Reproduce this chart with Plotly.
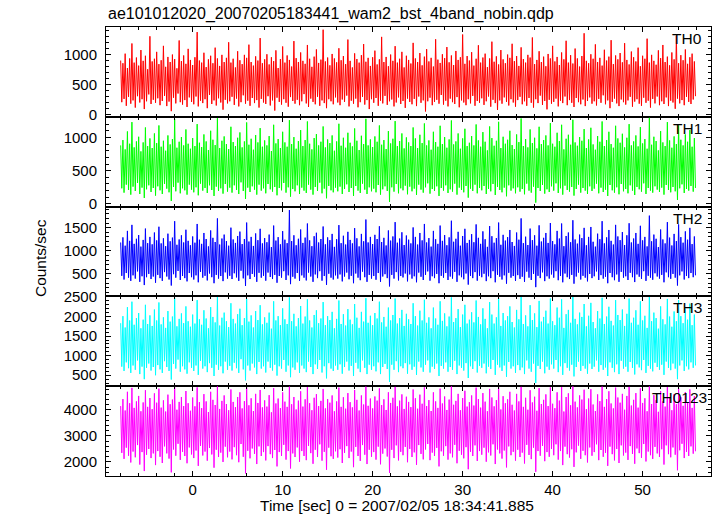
import numpy as np
import plotly.graph_objects as go
from plotly.subplots import make_subplots

title_text = "ae101012020_20070205183441_wam2_bst_4band_nobin.qdp"
x_title = "Time [sec] 0 = 2007/02/05 18:34:41.885"
y_title = "Counts/sec"
band_names = ["TH0", "TH1", "TH2", "TH3", "TH0123"]
band_colors = ["#ff0000", "#00ff00", "#0000ff", "#00ffff", "#ff00ff"]
t_start = -8.0
t_stop = 56.0

th0 = [
    905, 210, 860, 265, 1020, 150, 780, 300, 940, 185, 1190, 240, 870, 120, 955, 310, 820, 205, 1080, 260, 900, 95, 985, 225, 760, 340, 1310, 180, 890, 250, 935, 200,
    1050, 275, 845, 160, 910, 230, 1150, 315, 800, 145, 965, 220, 880, 60, 1005, 285, 930, 190, 775, 355, 1240, 210, 895, 170, 990, 245, 850, 130, 1100, 290, 915, 215,
    830, 175, 960, 305, 1380, 140, 905, 235, 870, 195, 1035, 260, 795, 110, 925, 330, 985, 180, 860, 240, 1120, 155, 940, 275, 815, 205, 1000, 85, 880, 250, 950, 190,
    1210, 225, 870, 300, 935, 165, 790, 270, 1060, 140, 910, 210, 845, 325, 1000, 185, 950, 235, 1170, 150, 880, 280, 820, 195, 975, 245, 905, 120, 1280, 265, 860, 205,
    925, 180, 1010, 310, 840, 155, 960, 240, 895, 70, 1075, 285, 780, 215, 930, 170, 1140, 260, 870, 200, 990, 135, 915, 295, 805, 230, 1230, 185, 945, 250, 880, 160,
    1040, 225, 900, 345, 850, 190, 1165, 130, 935, 270, 800, 215, 970, 175, 1090, 300, 865, 150, 920, 240, 1420, 195, 890, 110, 955, 260, 825, 225, 1015, 175, 940, 290,
    875, 205, 1110, 160, 910, 255, 980, 215, 845, 320, 1255, 140, 900, 235, 790, 185, 1025, 270, 930, 125, 870, 210, 995, 300, 1180, 170, 885, 245, 950, 95, 815, 260,
    960, 200, 1070, 280, 840, 150, 925, 235, 1300, 190, 880, 315, 965, 165, 810, 225, 1005, 255, 900, 140, 1145, 205, 870, 290, 935, 180, 1050, 230, 790, 115, 985, 270,
    915, 215, 855, 175, 1200, 265, 940, 145, 880, 305, 1030, 200, 825, 240, 970, 55, 1095, 225, 890, 285, 950, 160, 805, 215, 1260, 250, 920, 185, 865, 330, 1010, 170,
    945, 235, 1130, 140, 875, 270, 990, 210, 830, 180, 1065, 295, 915, 125, 960, 240, 1340, 205, 850, 160, 980, 260, 905, 190, 1045, 315, 820, 150, 935, 230, 1160, 200,
    870, 275, 955, 165, 1020, 225, 795, 305, 940, 135, 1220, 250, 885, 195, 975, 80, 840, 240, 1080, 185, 925, 290, 860, 215, 1005, 155, 950, 260, 1185, 205, 895, 135,
    980, 245, 815, 300, 1125, 175, 930, 225, 870, 150, 1000, 280, 955, 200, 1290, 120, 845, 260, 915, 195, 1060, 320, 880, 165, 970, 230, 810, 90, 1015, 250, 940, 185,
    1150, 215, 890, 270, 965, 140, 830, 235, 1040, 195, 925, 305, 1235, 160, 870, 245, 995, 200, 855, 130, 1105, 280, 940, 210, 805, 175, 980, 255, 1360, 145, 900, 230,
    860, 290, 1010, 185, 935, 225, 1175, 155, 880, 265, 950, 200, 820, 325, 1085, 175, 905, 240, 970, 110, 1245, 215, 845, 270, 990, 190, 925, 145, 1030, 255, 875, 210,
    1195, 170, 915, 240, 840, 300, 1055, 135, 960, 220, 890, 260, 1120, 185, 810, 150, 985, 285, 935, 200, 1270, 235, 870, 120, 1000, 265, 900, 190, 835, 305, 1075, 160,
    945, 225, 1165, 180, 880, 290, 970, 145, 825, 235, 1040, 205, 925, 100, 1315, 270, 860, 190, 995, 245, 910, 160, 1090, 300, 850, 215, 960, 180, 1020, 255, 890, 310,
]

th1 = [
    880, 235, 960, 170, 820, 290, 1090, 210, 905, 140, 1230, 260, 850, 195, 940, 315, 1010, 150, 790, 245, 925, 90, 1150, 220, 870, 280, 985, 180, 840, 240, 1060, 125,
    915, 265, 1180, 205, 860, 150, 950, 300, 800, 230, 1030, 175, 895, 45, 975, 255, 1275, 190, 845, 320, 935, 160, 1005, 235, 880, 205, 1120, 140, 905, 290, 830, 215,
    990, 175, 870, 250, 1200, 130, 920, 305, 855, 200, 1045, 240, 940, 165, 810, 280, 1100, 210, 965, 120, 885, 260, 1290, 195, 840, 235, 950, 155, 1015, 300, 900, 185,
    825, 245, 1160, 170, 930, 280, 870, 210, 995, 150, 1075, 325, 850, 195, 940, 75, 1225, 245, 890, 180, 980, 265, 815, 215, 1035, 140, 925, 290, 1140, 200, 860, 235,
    955, 160, 880, 300, 1020, 220, 795, 185, 1190, 255, 910, 130, 975, 240, 840, 205, 1085, 315, 925, 170, 860, 250, 1260, 110, 900, 225, 1005, 190, 830, 280, 945, 150,
    1110, 245, 870, 200, 960, 165, 1240, 290, 905, 215, 820, 140, 990, 255, 1050, 195, 880, 320, 935, 160, 1165, 230, 850, 85, 970, 270, 915, 205, 1030, 175, 800, 245,
    940, 190, 1205, 260, 875, 150, 995, 225, 845, 295, 1070, 180, 920, 240, 865, 120, 1135, 270, 950, 200, 810, 165, 1025, 305, 900, 215, 1280, 150, 880, 250, 970, 190,
    855, 230, 1015, 175, 935, 285, 1180, 140, 890, 220, 960, 265, 825, 195, 1095, 30, 910, 250, 980, 185, 1245, 300, 870, 160, 945, 235, 1060, 205, 835, 275, 1000, 145,
    925, 260, 870, 190, 1150, 230, 985, 135, 840, 290, 1040, 215, 915, 170, 1210, 250, 880, 310, 955, 155, 815, 225, 1085, 195, 930, 265, 860, 120, 1175, 240, 900, 200,
    1005, 280, 845, 165, 970, 220, 1255, 185, 895, 305, 940, 140, 1060, 245, 830, 210, 985, 175, 1130, 270, 870, 95, 920, 230, 1020, 195, 880, 290, 1195, 160, 955, 240,
    860, 205, 1080, 270, 935, 150, 805, 225, 1165, 190, 990, 300, 875, 135, 950, 255, 1235, 210, 840, 175, 1010, 245, 905, 115, 965, 280, 1100, 200, 885, 235, 825, 160,
    1045, 250, 930, 185, 1285, 225, 870, 145, 975, 305, 850, 200, 1120, 170, 915, 260, 995, 20, 835, 240, 1160, 195, 900, 285, 960, 155, 1030, 220, 880, 180, 1215, 265,
    905, 200, 860, 310, 1070, 165, 945, 235, 1190, 140, 820, 275, 980, 210, 1040, 185, 890, 255, 1265, 125, 925, 225, 875, 290, 1005, 170, 950, 240, 1125, 200, 840, 150,
    970, 265, 1145, 195, 895, 230, 815, 305, 1020, 160, 935, 245, 1240, 180, 870, 215, 960, 120, 1085, 285, 900, 205, 845, 170, 1175, 250, 985, 145, 920, 300, 1055, 190,
    850, 225, 995, 160, 1200, 280, 880, 200, 940, 135, 1030, 255, 865, 220, 1155, 185, 910, 310, 975, 150, 830, 240, 1295, 200, 890, 170, 1010, 265, 945, 215, 805, 180,
    1095, 245, 925, 140, 870, 285, 1230, 210, 955, 175, 845, 255, 1015, 190, 900, 60, 1180, 235, 965, 295, 880, 165, 1045, 225, 935, 200, 1110, 270, 860, 185, 990, 240,
]

th2 = [
    1180, 460, 1290, 380, 1110, 520, 1430, 420, 1215, 350, 1560, 470, 1150, 400, 1260, 555, 1340, 330, 1090, 450, 1235, 260, 1480, 430, 1165, 500, 1300, 390, 1140, 445, 1395, 310,
    1225, 480, 1520, 410, 1160, 350, 1270, 540, 1100, 445, 1370, 380, 1205, 250, 1285, 495, 1640, 420, 1130, 565, 1245, 370, 1335, 455, 1180, 410, 1455, 340, 1215, 520, 1120, 430,
    1310, 380, 1175, 470, 1580, 320, 1240, 545, 1150, 420, 1385, 460, 1255, 360, 1095, 510, 1440, 430, 1280, 300, 1190, 480, 1700, 400, 1135, 455, 1265, 345, 1350, 535, 1210, 400,
    1110, 460, 1500, 390, 1245, 515, 1170, 425, 1320, 350, 1415, 570, 1145, 405, 1255, 240, 1610, 470, 1200, 390, 1300, 500, 1105, 440, 1375, 330, 1230, 525, 1475, 420, 1160, 460,
    1275, 355, 1185, 530, 1350, 435, 1080, 390, 1545, 480, 1220, 310, 1295, 455, 1140, 420, 1425, 560, 1240, 370, 1165, 470, 1880, 280, 1210, 440, 1335, 400, 1120, 520, 1260, 350,
    1460, 470, 1170, 420, 1285, 360, 1590, 530, 1225, 445, 1100, 330, 1315, 490, 1390, 410, 1180, 560, 1255, 355, 1525, 455, 1140, 265, 1290, 505, 1230, 420, 1365, 380, 1085, 470,
    1250, 400, 1555, 490, 1165, 340, 1325, 445, 1135, 530, 1410, 385, 1235, 460, 1160, 300, 1490, 510, 1270, 420, 1095, 365, 1365, 550, 1205, 430, 1675, 330, 1180, 480, 1300, 400,
    1145, 455, 1345, 375, 1255, 520, 1530, 330, 1190, 445, 1280, 495, 1115, 410, 1440, 230, 1220, 480, 1310, 400, 1620, 540, 1175, 360, 1265, 455, 1400, 425, 1125, 510, 1330, 340,
    1240, 490, 1160, 400, 1505, 450, 1300, 320, 1135, 530, 1385, 440, 1225, 370, 1580, 480, 1180, 555, 1275, 355, 1090, 450, 1430, 410, 1250, 500, 1150, 300, 1545, 460, 1215, 420,
    1340, 520, 1120, 370, 1290, 445, 1650, 400, 1195, 545, 1260, 330, 1410, 470, 1110, 430, 1320, 385, 1475, 510, 1170, 270, 1235, 455, 1360, 410, 1185, 540, 1570, 355, 1280, 460,
    1150, 430, 1420, 505, 1250, 345, 1085, 450, 1535, 410, 1315, 560, 1175, 320, 1275, 480, 1610, 440, 1130, 380, 1345, 470, 1220, 290, 1295, 525, 1450, 420, 1190, 455, 1105, 350,
    1395, 475, 1240, 395, 1700, 440, 1165, 330, 1305, 550, 1125, 420, 1480, 370, 1230, 500, 1335, 215, 1110, 460, 1550, 410, 1200, 535, 1280, 345, 1385, 450, 1170, 400, 1600, 490,
    1210, 420, 1140, 560, 1430, 365, 1265, 455, 1590, 320, 1100, 510, 1320, 430, 1395, 390, 1185, 480, 1660, 290, 1245, 445, 1155, 530, 1350, 380, 1275, 460, 1495, 420, 1120, 340,
    1300, 500, 1515, 410, 1195, 450, 1090, 555, 1370, 370, 1250, 475, 1640, 400, 1160, 440, 1290, 300, 1450, 520, 1215, 430, 1135, 365, 1560, 490, 1310, 330, 1230, 545, 1405, 420,
    1125, 450, 1335, 370, 1595, 525, 1180, 430, 1265, 325, 1385, 490, 1150, 440, 1540, 395, 1225, 560, 1300, 350, 1095, 460, 1760, 420, 1205, 375, 1350, 515, 1260, 445, 1080, 400,
    1460, 480, 1245, 320, 1160, 535, 1620, 430, 1285, 395, 1115, 500, 1365, 420, 1210, 250, 1570, 470, 1295, 555, 1175, 380, 1420, 455, 1240, 410, 1495, 520, 1145, 430, 1310, 470,
]

th3 = [
    1830, 720, 2010, 610, 1720, 830, 2240, 680, 1900, 560, 2380, 750, 1790, 640, 1960, 880, 2090, 530, 1700, 720, 1920, 400, 2300, 690, 1810, 800, 2030, 620, 1760, 710, 2180, 500,
    1900, 760, 2360, 650, 1800, 560, 1980, 860, 1710, 710, 2140, 610, 1870, 390, 2000, 790, 2480, 670, 1750, 900, 1940, 590, 2080, 730, 1830, 650, 2260, 540, 1880, 830, 1740, 690,
    2050, 610, 1820, 750, 2420, 510, 1930, 870, 1790, 670, 2160, 730, 1950, 580, 1700, 810, 2240, 690, 1990, 480, 1850, 770, 2500, 640, 1770, 730, 1970, 550, 2100, 850, 1880, 640,
    1730, 740, 2340, 620, 1940, 820, 1820, 680, 2060, 560, 2200, 910, 1780, 650, 1960, 370, 2450, 750, 1870, 620, 2030, 800, 1720, 700, 2140, 530, 1910, 840, 2290, 670, 1800, 730,
    1980, 570, 1840, 850, 2100, 690, 1690, 620, 2390, 770, 1900, 490, 2010, 730, 1780, 670, 2210, 890, 1930, 590, 1810, 750, 2490, 450, 1880, 700, 2070, 640, 1750, 830, 1960, 560,
    2270, 750, 1820, 670, 2000, 580, 2440, 850, 1900, 710, 1720, 530, 2040, 780, 2160, 660, 1830, 890, 1950, 570, 2370, 730, 1780, 420, 2010, 810, 1910, 670, 2120, 610, 1700, 750,
    1940, 640, 2410, 780, 1810, 540, 2060, 710, 1770, 850, 2190, 620, 1920, 740, 1800, 480, 2320, 820, 1970, 670, 1710, 580, 2120, 880, 1870, 690, 2470, 530, 1840, 770, 2020, 640,
    1780, 730, 2090, 600, 1950, 830, 2380, 530, 1850, 710, 1990, 790, 1740, 660, 2230, 330, 1900, 770, 2040, 640, 2460, 860, 1820, 580, 1960, 730, 2170, 680, 1760, 810, 2070, 540,
    1930, 780, 1810, 640, 2340, 720, 2010, 510, 1770, 850, 2150, 700, 1900, 590, 2430, 770, 1840, 880, 1980, 570, 1700, 720, 2230, 660, 1950, 800, 1790, 480, 2390, 740, 1890, 670,
    2080, 830, 1750, 590, 2000, 710, 2490, 640, 1860, 870, 1960, 530, 2190, 750, 1730, 690, 2050, 620, 2300, 810, 1820, 430, 1920, 730, 2110, 660, 1850, 860, 2410, 570, 1990, 740,
    1800, 690, 2210, 800, 1940, 550, 1700, 720, 2370, 660, 2050, 890, 1820, 510, 1980, 770, 2480, 700, 1760, 610, 2090, 750, 1900, 460, 2010, 840, 2260, 670, 1860, 730, 1720, 560,
    2170, 760, 1930, 630, 2500, 700, 1810, 530, 2030, 880, 1750, 670, 2290, 590, 1910, 800, 2080, 300, 1730, 740, 2400, 660, 1870, 850, 1990, 550, 2150, 720, 1820, 640, 2460, 780,
    1880, 670, 1780, 890, 2230, 580, 1970, 730, 2440, 510, 1710, 810, 2060, 690, 2170, 620, 1840, 770, 2500, 470, 1940, 710, 1800, 850, 2100, 610, 1990, 740, 2320, 670, 1750, 540,
    2020, 800, 2350, 660, 1860, 720, 1700, 880, 2140, 590, 1950, 760, 2480, 640, 1810, 700, 2000, 480, 2250, 830, 1890, 690, 1770, 580, 2420, 780, 2040, 530, 1910, 870, 2180, 670,
    1760, 720, 2070, 590, 2460, 840, 1840, 690, 1970, 520, 2160, 780, 1790, 700, 2390, 630, 1900, 890, 2020, 560, 1710, 740, 2500, 670, 1880, 600, 2100, 820, 1960, 710, 1690, 640,
    2260, 770, 1930, 510, 1800, 850, 2450, 690, 2000, 630, 1740, 800, 2130, 670, 1880, 400, 2420, 750, 2010, 880, 1830, 610, 2200, 730, 1920, 650, 2330, 830, 1780, 690, 2050, 750,
]

th0123 = [
    4150, 2350, 4420, 2120, 3980, 2550, 4700, 2240, 4260, 1980, 4850, 2400, 4080, 2180, 4330, 2650, 4540, 1900, 3950, 2380, 4290, 1650, 4760, 2280, 4120, 2500, 4460, 2150, 4030, 2330, 4640, 1880,
    4280, 2420, 4820, 2200, 4090, 1960, 4370, 2600, 3940, 2330, 4590, 2130, 4220, 1600, 4400, 2480, 4900, 2240, 4010, 2700, 4310, 2080, 4500, 2390, 4150, 2230, 4730, 1950, 4260, 2560, 3970, 2290,
    4480, 2150, 4140, 2440, 4870, 1850, 4300, 2620, 4070, 2250, 4610, 2400, 4330, 2050, 3920, 2540, 4700, 2290, 4390, 1780, 4190, 2470, 4910, 2190, 4040, 2360, 4350, 2000, 4560, 2590, 4230, 2180,
    3990, 2400, 4790, 2100, 4310, 2570, 4110, 2260, 4500, 1990, 4680, 2690, 4060, 2200, 4340, 1560, 4880, 2430, 4180, 2140, 4450, 2520, 3960, 2310, 4620, 1920, 4270, 2600, 4770, 2230, 4100, 2380,
    4370, 2060, 4130, 2610, 4570, 2300, 3910, 2150, 4840, 2460, 4250, 1830, 4440, 2380, 4070, 2230, 4680, 2660, 4320, 2090, 4120, 2420, 4900, 1750, 4220, 2330, 4500, 2190, 4020, 2560, 4360, 2010,
    4720, 2420, 4130, 2230, 4410, 2070, 4880, 2620, 4260, 2340, 3990, 1930, 4470, 2470, 4610, 2190, 4150, 2680, 4350, 2050, 4810, 2390, 4060, 1700, 4420, 2550, 4280, 2220, 4560, 2120, 3950, 2410,
    4330, 2170, 4860, 2490, 4120, 1960, 4490, 2350, 4050, 2610, 4650, 2150, 4300, 2400, 4100, 1800, 4770, 2580, 4390, 2230, 3980, 2040, 4560, 2650, 4210, 2280, 4900, 1920, 4160, 2470, 4440, 2200,
    4060, 2380, 4520, 2090, 4360, 2590, 4830, 1910, 4190, 2320, 4410, 2520, 4000, 2210, 4680, 1580, 4270, 2470, 4470, 2150, 4890, 2640, 4140, 2060, 4360, 2390, 4600, 2260, 4040, 2580, 4510, 1990,
    4310, 2500, 4110, 2190, 4790, 2370, 4450, 1890, 4050, 2650, 4590, 2310, 4240, 2100, 4870, 2480, 4150, 2690, 4380, 2070, 3960, 2360, 4680, 2230, 4330, 2540, 4080, 1830, 4820, 2410, 4250, 2240,
    4520, 2610, 4000, 2090, 4400, 2330, 4910, 2180, 4200, 2660, 4350, 1950, 4620, 2430, 3990, 2280, 4460, 2140, 4740, 2570, 4130, 1720, 4300, 2390, 4560, 2230, 4170, 2640, 4860, 2040, 4420, 2420,
    4090, 2280, 4650, 2550, 4320, 2010, 3950, 2370, 4810, 2250, 4480, 2680, 4140, 1920, 4380, 2480, 4900, 2330, 4020, 2130, 4530, 2440, 4260, 1790, 4410, 2600, 4700, 2260, 4200, 2390, 3980, 2050,
    4620, 2470, 4330, 2190, 4890, 2360, 4120, 1940, 4470, 2660, 4010, 2270, 4760, 2110, 4290, 2550, 4510, 1620, 3970, 2420, 4840, 2240, 4230, 2620, 4390, 2030, 4600, 2380, 4150, 2200, 4870, 2500,
    4240, 2260, 4070, 2680, 4680, 2090, 4360, 2420, 4880, 1880, 3940, 2590, 4500, 2300, 4640, 2170, 4180, 2490, 4910, 1810, 4320, 2370, 4100, 2630, 4560, 2120, 4400, 2430, 4780, 2260, 4030, 1980,
    4440, 2560, 4800, 2240, 4210, 2380, 3960, 2680, 4600, 2070, 4340, 2460, 4900, 2200, 4120, 2350, 4420, 1850, 4720, 2590, 4250, 2300, 4060, 2060, 4860, 2500, 4480, 1960, 4280, 2640, 4620, 2250,
    4010, 2360, 4540, 2080, 4890, 2610, 4170, 2310, 4390, 1930, 4650, 2520, 4090, 2340, 4830, 2160, 4270, 2690, 4450, 2020, 3950, 2400, 4910, 2260, 4230, 2120, 4570, 2580, 4380, 2330, 3930, 2190,
    4730, 2490, 4330, 1900, 4130, 2640, 4880, 2300, 4470, 2180, 3990, 2560, 4610, 2280, 4220, 1680, 4850, 2450, 4490, 2700, 4160, 2150, 4690, 2390, 4300, 2230, 4790, 2600, 4080, 2320, 4530, 2410,
]

series = [th0, th1, th2, th3, th0123]

# ---- styling / layout (not data) ----
y_ranges = [[-34, 1465], [-40, 1310], [15, 1955], [220, 2515], [1460, 4915]]
y_major = [500, 500, 500, 500, 1000]
y_minor = [100, 100, 100, 100, 200]
label_x = [0.988, 0.988, 0.988, 0.988, 0.996]

FONT = "Liberation Sans, Arial, Helvetica, sans-serif"

fig = make_subplots(rows=5, cols=1, shared_xaxes=True, vertical_spacing=0)

for i, (vals, name, col) in enumerate(zip(series, band_names, band_colors)):
    n = len(vals)
    t = t_start + (t_stop - t_start) * np.arange(n) / n
    fig.add_trace(
        go.Scatter(x=t, y=vals, mode="lines", line=dict(color=col, width=1),
                   name=name, showlegend=False, hoverinfo="skip"),
        row=i + 1, col=1,
    )
    fig.update_yaxes(
        range=y_ranges[i], dtick=y_major[i], tick0=0,
        ticks="inside", ticklen=5, tickwidth=1, tickcolor="black",
        minor=dict(dtick=y_minor[i], ticks="inside", ticklen=3, tickcolor="black"),
        showline=True, linecolor="black", linewidth=1, mirror="ticks",
        showgrid=False, zeroline=False,
        tickfont=dict(family=FONT, size=15, color="black"),
        ticklabelstandoff=5,
        row=i + 1, col=1,
    )
    fig.update_xaxes(
        range=[-9.63, 57.6], dtick=10, tick0=0,
        ticks="inside", ticklen=5, tickwidth=1, tickcolor="black",
        minor=dict(dtick=2, ticks="inside", ticklen=3, tickcolor="black"),
        showline=True, linecolor="black", linewidth=1, mirror="ticks",
        showgrid=False, zeroline=False,
        showticklabels=(i == 4),
        tickfont=dict(family=FONT, size=15, color="black"),
        ticklabelstandoff=0,
        row=i + 1, col=1,
    )
    fig.add_annotation(
        text=name, xref="x%s domain" % ("" if i == 0 else i + 1),
        yref="y%s domain" % ("" if i == 0 else i + 1),
        x=label_x[i], y=1, xanchor="right", yanchor="top", yshift=-1,
        showarrow=False, font=dict(family=FONT, size=15.5, color="black"),
    )

fig.add_annotation(text=title_text, xref="paper", yref="paper", x=0, y=1.0285,
                   xanchor="left", yanchor="middle", showarrow=False,
                   font=dict(family=FONT, size=16, color="black"))
fig.add_annotation(text=x_title, xref="paper", yref="paper", x=0.481, y=-0.0646,
                   xanchor="center", yanchor="middle", showarrow=False,
                   font=dict(family=FONT, size=15.5, color="black"))
fig.add_annotation(text=y_title, xref="paper", yref="paper", x=-0.109, y=0.4855,
                   xanchor="center", yanchor="middle", textangle=-90, showarrow=False,
                   font=dict(family=FONT, size=15.5, color="black"))

fig.update_layout(
    width=717, height=516,
    margin=dict(l=106, r=6, t=27, b=40),
    paper_bgcolor="white", plot_bgcolor="white",
    showlegend=False,
)

# remove the browser's default 8px body margin so the figure fills the window
fig.write_html("out.html", config={"displayModeBar": False},
               post_script="document.body.style.margin='0px';")
